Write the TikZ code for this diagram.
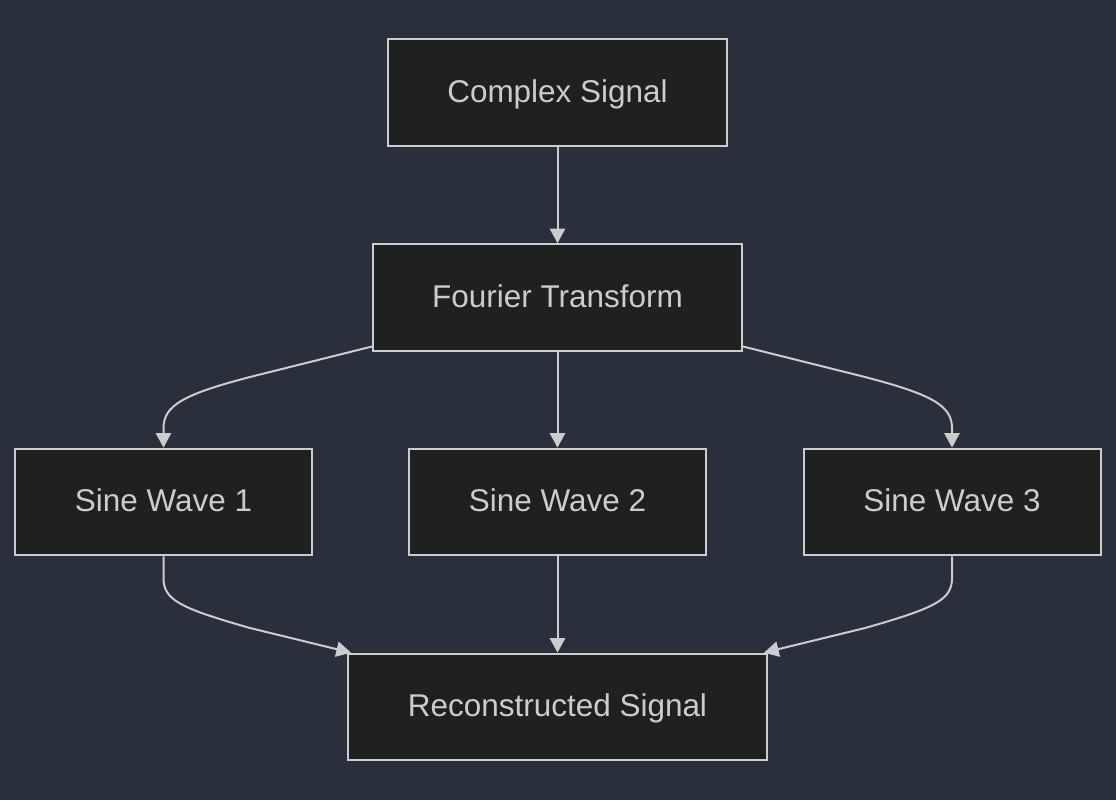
\documentclass[tikz,border=0pt]{standalone}
\usepackage{fontspec}
\setmainfont{Liberation Sans}
\usetikzlibrary{arrows.meta}
\definecolor{bgcol}{RGB}{42,47,60}
\definecolor{boxcol}{RGB}{31,32,32}
\definecolor{linecol}{RGB}{204,204,204}
\begin{document}
\begin{tikzpicture}[x=0.75pt,y=-0.75pt,
    box/.style={draw=linecol,fill=boxcol,line width=1.5pt,text=linecol,
        minimum height=80pt,inner sep=0pt,text height=17pt,text depth=2.3pt,
        font=\fontsize{23.6}{28}\selectfont},
    edge/.style={draw=linecol,line width=1.5pt,
        -{Triangle[width=11.5pt,length=11pt]}}]
    \fill [bgcol] (0,0) rectangle (1116,800);
    \useasboundingbox (0,0) rectangle (1116,800);
    \node [box,minimum width=254.25pt] (cs) at (557.5,92.5) {Complex Signal};
    \node [box,minimum width=276.75pt] (ft) at (557.5,297.5) {Fourier Transform};
    \node [box,minimum width=222.75pt] (sw1) at (163.5,502) {Sine Wave 1};
    \node [box,minimum width=222.75pt] (sw2) at (557.5,502) {Sine Wave 2};
    \node [box,minimum width=222.75pt] (sw3) at (952,502) {Sine Wave 3};
    \node [box,minimum width=314.25pt] (rs) at (557.5,707) {Reconstructed Signal};
    % straight ones
    \draw [edge] (cs) -- (ft);
    \draw [edge] (ft) -- (sw2);
    \draw [edge] (sw2) -- (rs);
    % curved ones
    \draw [edge] ([yshift=4pt]ft.south west) -- (250,377)
        .. controls (185,394) and (163.5,405) .. (163.5,428) -- (sw1.north);
    \draw [edge] ([yshift=4pt]ft.south east) -- (865,377)
        .. controls (930,394) and (952,405) .. (952,428) -- (sw3.north);
    \draw [edge] (sw1.south) -- (163.5,578)
        .. controls (163.5,600) and (180,608) .. (250,628) -- ([xshift=3pt]rs.north west);
    \draw [edge] (sw3.south) -- (952,578)
        .. controls (952,600) and (935,608) .. (865,628) -- ([xshift=-3pt]rs.north east);
\end{tikzpicture}
\end{document}
